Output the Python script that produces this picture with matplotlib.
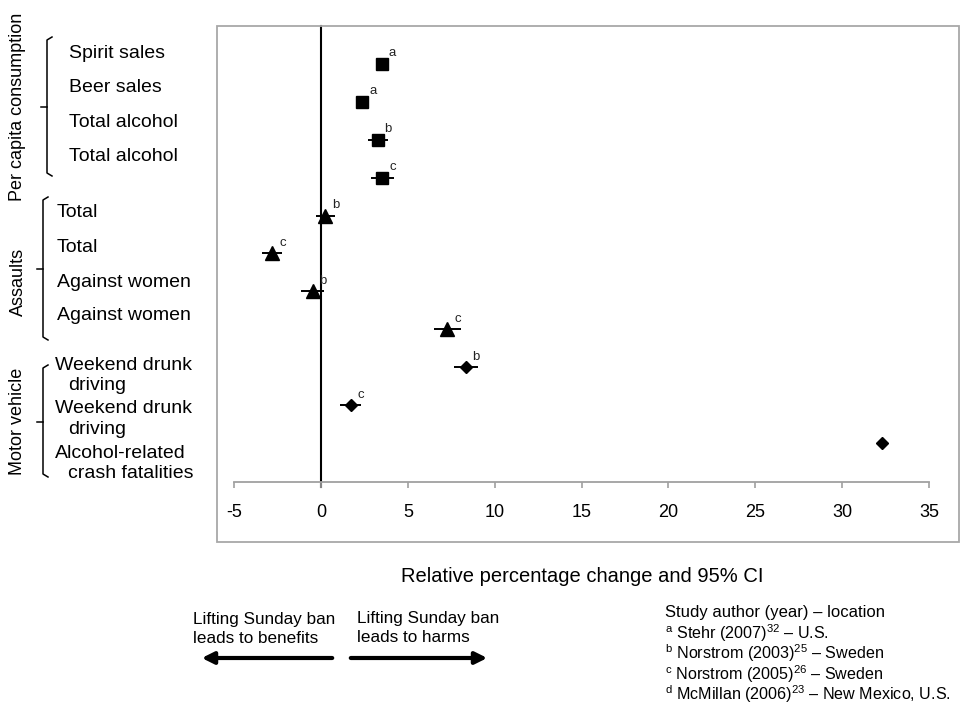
import matplotlib
matplotlib.use("Agg")
import matplotlib.pyplot as plt
from matplotlib.lines import Line2D
from matplotlib.patches import Rectangle, FancyArrowPatch

plt.rcParams['font.family'] = ['Liberation Sans', 'DejaVu Sans']
plt.rcParams['mathtext.fontset'] = 'custom'
plt.rcParams['mathtext.rm'] = 'Liberation Sans'
plt.rcParams['mathtext.it'] = 'Liberation Sans:italic'

# outcomes, top to bottom
outcomes = ["Spirit sales", "Beer sales", "Total alcohol", "Total alcohol",
            "Total", "Total", "Against women", "Against women",
            "Weekend drunk\ndriving", "Weekend drunk\ndriving",
            "Alcohol-related\ncrash fatalities"]
change = [3.48, 2.38, 3.26, 3.52, 0.23, -2.83, -0.48, 7.27, 8.33, 1.70, 32.27]
ci_half = [0, 0, 0.57, 0.67, 0.55, 0.57, 0.66, 0.80, 0.69, 0.60, 0]
study = ["a", "a", "b", "c", "b", "c", "b", "c", "b", "c", ""]
group = ["consumption"] * 4 + ["assaults"] * 4 + ["motor"] * 3

group_names = ["Per capita consumption", "Assaults", "Motor vehicle"]
group_markers = {"consumption": ("s", 9), "assaults": ("^", 10), "motor": ("D", 6)}

x_ticks = [-5, 0, 5, 10, 15, 20, 25, 30, 35]

DASH = "\u2013"
legend_title = "Study author (year) " + DASH + " location"
legend_rows = [r"$^{\mathrm{a}}$ Stehr (2007)$^{32}$ " + DASH + " U.S.",
               r"$^{\mathrm{b}}$ Norstrom (2003)$^{25}$ " + DASH + " Sweden",
               r"$^{\mathrm{c}}$ Norstrom (2005)$^{26}$ " + DASH + " Sweden",
               r"$^{\mathrm{d}}$ McMillan (2006)$^{23}$ " + DASH + " New Mexico, U.S."]

W, H = 963, 705
fig = plt.figure(figsize=(W / 100, H / 100), dpi=100)


def fx(px):
    return px / W


def fy(py):
    return 1 - py / H


# chart border
fig.add_artist(Rectangle((fx(217), fy(542)), fx(959 - 217), (542 - 26) / H,
                         transform=fig.transFigure, fill=False,
                         edgecolor="#a8a8a8", lw=1.3))

ax = fig.add_axes([fx(234.3), fy(482), fx(929 - 234.3), (482 - 26) / H])
ypos = list(range(len(outcomes)))
ax.set_xlim(-5, 35)
ax.set_ylim(len(outcomes) + 0.03, -1.0)

ax.axvline(0, ymin=-0.012, ymax=1, color="black", lw=1.5, clip_on=False, zorder=1)

for i in range(len(outcomes)):
    m, ms = group_markers[group[i]]
    if ci_half[i] > 0:
        ax.errorbar(change[i], ypos[i], xerr=ci_half[i], fmt="none",
                    ecolor="black", elinewidth=1.4, capsize=0, zorder=2)
    ax.plot(change[i], ypos[i], marker=m, ms=ms, color="black", ls="none", zorder=3)
    if study[i]:
        ax.annotate(study[i], (change[i], ypos[i]), xytext=(7.5, 7.5),
                    textcoords="offset points", fontsize=9.5, color="#222222",
                    ha="center", va="center")

ax.set_xticks(x_ticks)
ax.set_xticklabels([str(t) for t in x_ticks], fontsize=13)
ax.set_yticks([])
for s in ["top", "left", "right"]:
    ax.spines[s].set_visible(False)
ax.spines["bottom"].set_color("#a0a0a0")
ax.spines["bottom"].set_linewidth(1.3)
ax.tick_params(axis="x", direction="out", length=4, width=1.2, color="#a0a0a0", pad=12)
ax.patch.set_alpha(0)

# outcome labels on the left
label_x = {"consumption": 69, "assaults": 57, "motor": 55}
label_base = [58, 92, 127, 161, 217, 252, 287, 320, 370, 413, 458]
for i, lab in enumerate(outcomes):
    lines = lab.split("\n")
    x0 = label_x[group[i]]
    for k, line in enumerate(lines):
        fig.text(fx(x0 + 13 * k), fy(label_base[i] + 20.5 * k), line,
                 fontsize=14, ha="left", va="baseline")

# group brackets and names
brackets = [(47, 37, 176, 107), (43, 197, 340, 269), (43, 365, 477, 422)]
name_y = [107, 282, 421]
for (bx, y0, y1, ym), name, ny in zip(brackets, group_names, name_y):
    fig.add_artist(Line2D([fx(bx + 5), fx(bx), fx(bx), fx(bx + 5)],
                          [fy(y0), fy(y0 + 3), fy(y1 - 3), fy(y1)],
                          transform=fig.transFigure, color="black", lw=1.1))
    fig.add_artist(Line2D([fx(bx), fx(bx - 6)], [fy(ym), fy(ym)],
                          transform=fig.transFigure, color="black", lw=1.1))
    fig.text(fx(18), fy(ny), name, rotation=90, fontsize=13,
             ha="center", va="center")

fig.text(fx(582), fy(576), "Relative percentage change and 95% CI",
         fontsize=14.5, ha="center", va="center")

# direction arrows
fig.text(fx(193), fy(629), "Lifting Sunday ban\nleads to benefits",
         fontsize=12.3, ha="left", va="center", linespacing=1.35)
fig.text(fx(357), fy(628), "Lifting Sunday ban\nleads to harms",
         fontsize=12.3, ha="left", va="center", linespacing=1.35)
for xa, xb in [(335, 199), (348, 490)]:
    fig.add_artist(FancyArrowPatch((fx(xa), fy(658)), (fx(xb), fy(658)),
                                   transform=fig.transFigure,
                                   arrowstyle="-|>,head_length=7,head_width=3.5",
                                   mutation_scale=1, lw=3, color="black"))

# study legend
fig.text(fx(665), fy(612), legend_title, fontsize=12, ha="left", va="center")
for k, row in enumerate(legend_rows):
    fig.text(fx(665), fy(633 + 20.5 * k), row, fontsize=11.6, ha="left", va="center")

fig.savefig("out.png", dpi=100, facecolor="white")
